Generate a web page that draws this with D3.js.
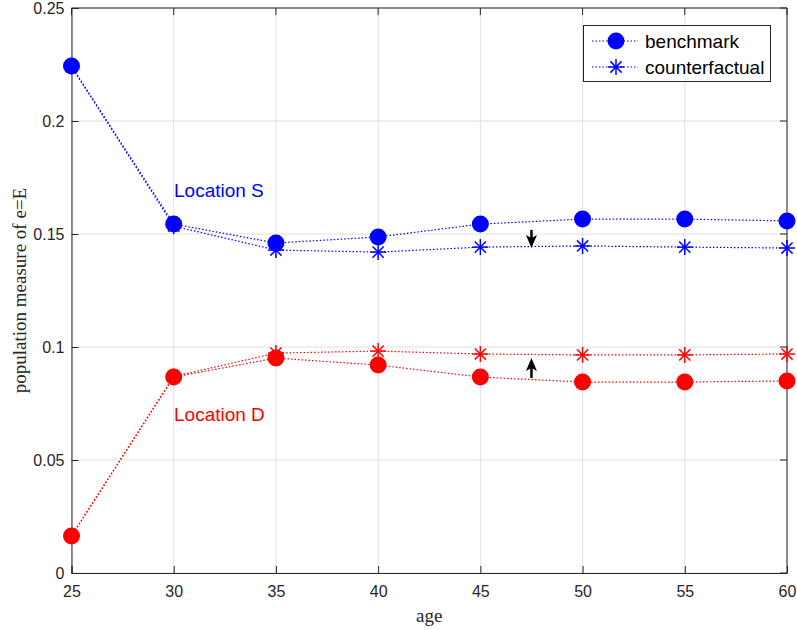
<!DOCTYPE html>
<html><head><meta charset="utf-8">
<script src="https://cdn.jsdelivr.net/npm/d3@7"></script>
<style>body{margin:0;background:#fff;} svg{display:block;}</style>
</head><body>
<script>
const ages = [25,30,35,40,45,50,55,60];
const sBench = [0.2243,0.1544,0.1460,0.1487,0.1544,0.1566,0.1566,0.1558];
const sCounter = [0.2240,0.1535,0.1429,0.1420,0.1442,0.1447,0.1442,0.1438];
const dBench = [0.0164,0.0867,0.0951,0.0920,0.0867,0.0845,0.0845,0.0850];
const dCounter = [0.0164,0.0870,0.0973,0.0982,0.0969,0.0965,0.0965,0.0969];
const xTicks = [25,30,35,40,45,50,55,60];
const yTicks = [0,0.05,0.1,0.15,0.2,0.25];
const yTickLabels = ["0","0.05","0.1","0.15","0.2","0.25"];

const W=797,H=630;
const svg=d3.select("body").append("svg").attr("width",W).attr("height",H);
const L=71.5,R=787,T=8,B=573;
const x=d3.scaleLinear().domain([25,60]).range([L,R]);
const y=d3.scaleLinear().domain([0,0.25]).range([B,T]);
const SANS="Liberation Sans, Arial, sans-serif", SERIF="Liberation Serif, Times New Roman, serif";

// grid
svg.append("g").selectAll("line").data(xTicks).join("line")
 .attr("x1",d=>x(d)).attr("x2",d=>x(d)).attr("y1",T).attr("y2",B)
 .attr("stroke","#e0e0e0").attr("stroke-width",1);
svg.append("g").selectAll("line").data(yTicks).join("line")
 .attr("x1",L).attr("x2",R).attr("y1",d=>y(d)).attr("y2",d=>y(d))
 .attr("stroke","#e0e0e0").attr("stroke-width",1);

// axes
const xa=svg.append("g").attr("transform",`translate(0,${B})`)
 .call(d3.axisBottom(x).tickValues(xTicks).tickSize(-7).tickPadding(13).tickFormat(d3.format("d")));
const ya=svg.append("g").attr("transform",`translate(${L},0)`)
 .call(d3.axisLeft(y).tickValues(yTicks).tickSize(-7).tickPadding(7).tickFormat((d,i)=>yTickLabels[i]));
[xa,ya].forEach(a=>{a.select(".domain").attr("stroke","#262626");a.selectAll(".tick line").attr("stroke","#262626");
 a.selectAll("text").attr("font-family",SANS).attr("font-size",16).attr("fill","#262626");});
// top/right box
svg.append("line").attr("x1",L).attr("x2",R).attr("y1",T).attr("y2",T).attr("stroke","#262626");
svg.append("line").attr("x1",R).attr("x2",R).attr("y1",T).attr("y2",B).attr("stroke","#262626");
svg.append("g").selectAll("line").data(yTicks).join("line")
 .attr("x1",R-7).attr("x2",R).attr("y1",d=>y(d)).attr("y2",d=>y(d)).attr("stroke","#262626");
svg.append("g").selectAll("line").data(xTicks).join("line")
 .attr("x1",d=>x(d)).attr("x2",d=>x(d)).attr("y1",T).attr("y2",T+7).attr("stroke","#262626");

// axis labels
svg.append("text").attr("x",(L+R)/2).attr("y",622).attr("text-anchor","middle")
 .attr("font-family",SERIF).attr("font-size",19).attr("fill","#262626").text("age");
svg.append("text").attr("transform",`translate(26,${(T+B)/2}) rotate(-90)`).attr("text-anchor","middle")
 .attr("font-family",SERIF).attr("font-size",19).attr("fill","#262626").text("population measure of e=E");

const line=d3.line().x((d,i)=>x(ages[i])).y(d=>y(d));
function drawLine(vals,color){
 svg.append("path").datum(vals).attr("d",line).attr("fill","none").attr("stroke",color)
  .attr("stroke-width",1.2).attr("stroke-dasharray","1.5,2");
}
function star(g,cx,cy,color,s){
 const r=s;
 const segs=[[ -r,0,r,0],[0,-r,0,r],[-r*0.7,-r*0.7,r*0.7,r*0.7],[-r*0.7,r*0.7,r*0.7,-r*0.7]];
 segs.forEach(q=>g.append("line").attr("x1",cx+q[0]).attr("y1",cy+q[1]).attr("x2",cx+q[2]).attr("y2",cy+q[3])
  .attr("stroke",color).attr("stroke-width",1.5));
}
function drawDots(vals,color){
 svg.append("g").selectAll("circle").data(vals).join("circle")
  .attr("cx",(d,i)=>x(ages[i])).attr("cy",d=>y(d)).attr("r",8.5).attr("fill",color);
}
function drawStars(vals,color){
 const g=svg.append("g");
 vals.forEach((d,i)=>star(g,x(ages[i]),y(d),color,8));
}
drawLine(sBench,"#0000ff"); drawLine(sCounter,"#0000ff");
drawLine(dBench,"#ff0000"); drawLine(dCounter,"#ff0000");
drawStars(sCounter,"#0000ff"); drawStars(dCounter,"#ff0000");
drawDots(sBench,"#0000ff"); drawDots(dBench,"#ff0000");

// labels
svg.append("text").attr("x",174).attr("y",197).attr("font-family",SANS)
 .attr("font-size",19).attr("fill","#0000ff").text("Location S");
svg.append("text").attr("x",174).attr("y",421).attr("font-family",SANS)
 .attr("font-size",19).attr("fill","#ff0000").text("Location D");

// arrows
function arrow(xv,y1,y2){
 const ax=x(xv), p1=y(y1), p2=y(y2);
 const dir=p2>p1?1:-1;
 svg.append("line").attr("x1",ax).attr("x2",ax).attr("y1",p1).attr("y2",p2-dir*8).attr("stroke","#000").attr("stroke-width",2.5);
 svg.append("path").attr("d",`M${ax},${p2} L${ax-5.5},${p2-dir*13} L${ax},${p2-dir*10} L${ax+5.5},${p2-dir*13} Z`).attr("fill","#000");
}
arrow(47.5,0.1518,0.1438);
arrow(47.5,0.0863,0.0951);

// legend
const lg=svg.append("g");
lg.append("rect").attr("x",583.5).attr("y",25.5).attr("width",187).attr("height",56).attr("fill","#fff").attr("stroke","#262626");
[["benchmark","dot"],["counterfactual","star"]].forEach((e,i)=>{
 const cy=41+i*26;
 lg.append("line").attr("x1",592).attr("x2",638).attr("y1",cy).attr("y2",cy).attr("stroke","#0000ff").attr("stroke-width",1.2).attr("stroke-dasharray","1.5,2");
 if(e[1]=="dot") lg.append("circle").attr("cx",616).attr("cy",cy).attr("r",8.5).attr("fill","#0000ff");
 else star(lg,616,cy,"#0000ff",8);
 lg.append("text").attr("x",645).attr("y",cy+7).attr("font-family",SANS).attr("font-size",19).attr("fill","#000").text(e[0]);
});
</script>
</body></html>
